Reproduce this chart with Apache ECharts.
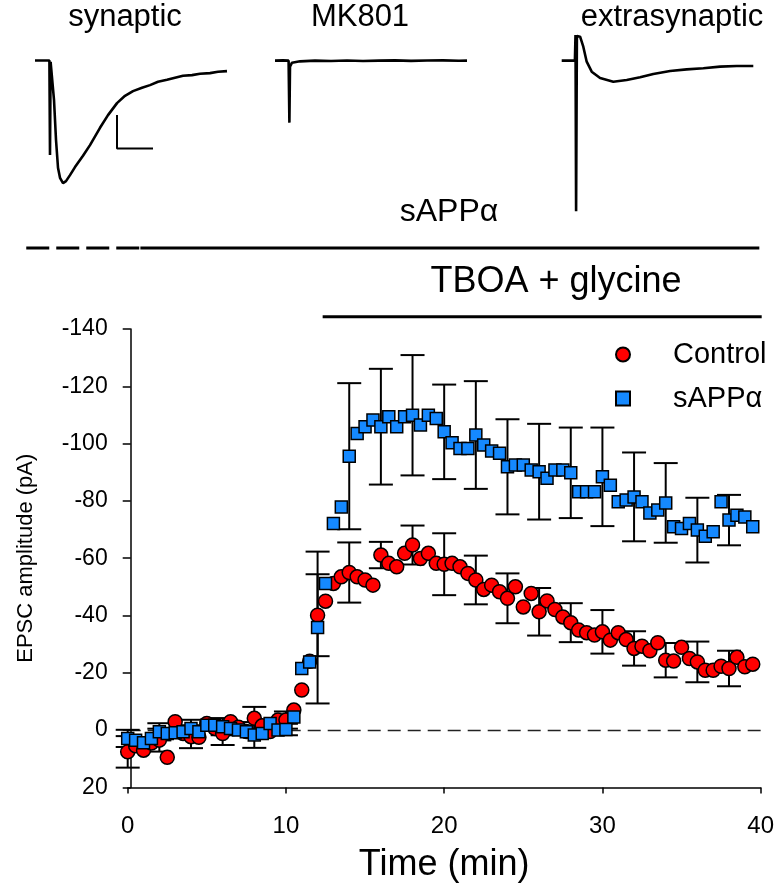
<!DOCTYPE html>
<html><head><meta charset="utf-8">
<script src="https://cdn.jsdelivr.net/npm/echarts@6/dist/echarts.min.js"></script>
<style>html,body{margin:0;padding:0;background:#fff}#c{width:777px;height:896px}</style>
</head><body><div id="c"></div>
<script>
// ---- main time course (min) ----
const timeMin = [0,0.5,1,1.5,2,2.5,3,3.5,4,4.5,5,5.5,6,6.5,7,7.5,8,8.5,9,9.5,10,10.5,11,11.5,12,12.5,13,13.5,14,14.5,15,15.5,16,16.5,17,17.5,18,18.5,19,19.5,20,20.5,21,21.5,22,22.5,23,23.5,24,24.5,25,25.5,26,26.5,27,27.5,28,28.5,29,29.5,30,30.5,31,31.5,32,32.5,33,33.5,34,34.5,35,35.5,36,36.5,37,37.5,38,38.5,39,39.5];
const controlAmp = [7.6,5.5,7.0,4.5,3.5,9.5,-2.9,1.2,2.3,2.5,-2.3,-0.6,1.2,-2.9,-1.0,0.5,-4.1,-1.5,0.5,-3.5,-3.5,-7.0,
  -14,-24,-40.1,-45,-51.2,-53.5,-55,-53.5,-52.4,-50.6,-61.1,-58.2,-57,-61.7,-64.6,-59.9,-61.7,-58.2,
  -57.9,-58.2,-57,-54.7,-52.4,-49.1,-50.6,-48.3,-46,-50,-43,-47.7,-41.3,-45.1,-42.1,-39.5,-37.5,-34.9,-34,-33.2,
  -34.3,-31.4,-34,-31.6,-28.5,-29.3,-27.7,-30.5,-24.4,-24.1,-28.9,-25,-23.8,-20.9,-20.9,-22.3,-21.5,-25.4,-22.1,-23];
const sappAmp = [2.9,3.5,4.4,2.9,0.6,1.2,0.9,0.6,-0.6,0.6,-1.7,-1.7,-1.2,-0.6,0,0.6,1.7,1.2,-2.3,0,-0.2,-4.6,
  -21.5,-23.8,-35.8,-51.2,-72.1,-77.9,-95.6,-103.5,-105.9,-108.2,-105.9,-109.4,-105.9,-109.4,-109.9,-106.5,-109.9,-108.8,
  -104.1,-100.3,-98.3,-98.3,-103,-99.5,-97.4,-96.6,-91.9,-92.5,-92.5,-90.8,-90.2,-87.9,-90.8,-90.8,-89.8,-83.2,-83.2,-83.2,
  -88.4,-85.5,-79.7,-80.3,-81.4,-79.7,-75.8,-76.8,-79.3,-71,-70.4,-72.1,-69.8,-67.7,-69.2,-79.7,-73.3,-75,-74.4,-71];
const errTime = [0,2,4,6,8,10,12,14,16,18,20,22,24,26,28,30,32,34,36,38];
const controlErr = [5.5,4,4,4,4,3,14.3,10.5,4.6,6.8,10.8,8.5,8.7,8.3,6.8,7.6,6,6,7.1,6.2];
const sappErr = [3,3,3,3,4.5,2,26.5,25.5,20.2,21,16.5,18.8,16.6,16.7,15.8,17.2,15.5,13.9,11.3,8.8];
const seriesNames = ['Control', 'sAPPα'];

// ---- treatment bars (min) ----
const sappPreStart = -6.4, sappStart = 0.8, sappEnd = 39.85;
const tboaStart = 12.3, tboaEnd = 40;

// ---- example traces (ms, pA) ----
const synT = [0,36,37.5,39,42.5,47.5,52.5,57.5,62.5,70,77.5,87.5,100,120,137.5,162.5,182.5,205,225,245,267.5,287.5,307.5,330,350,370,392.5,412.5,437.5,457.5,480];
const synI = [0,0,-142,-2,-4,-59,-119,-161,-176,-184,-181,-172,-160,-143,-127,-101,-82,-64,-53,-46,-41,-37,-32,-29,-26,-23,-22,-20,-19,-17,-16];
const mkT = [0,20,34,36,37.5,42.5,62.5,100,140,180,220,260,300,340,380,420,460,480];
const mkI = [0,0.5,0,-93,-9,-3,-1,0,-0.5,0.3,-0.6,0,0.4,-0.3,0.2,0.5,-0.2,0];
const exT = [0,33,34.5,36,38,41,46,54,62.5,75,96,129,162.5,196,229,271,312.5,354,396,437.5,479];
const exI = [0,0,38.6,-226,37,35,36,21,-1.5,-16.5,-26,-31.5,-29,-25,-20,-15.5,-13,-11.4,-9,-8,-8];
const scaleBarT = [205,205,295];
const scaleBarI = [-82,-132,-132];

const zip = (a, b) => a.map((v, i) => [v, b[i]]);
const errData = (amp, err) => errTime.map((t, i) => [t, amp[timeMin.indexOf(t)], err[i]]);

const FONT = '"Liberation Sans", Arial, sans-serif';
const chart = echarts.init(document.getElementById('c'), null, {renderer: 'canvas'});

function errRender(params, api) {
  const x = api.value(0), y = api.value(1), e = api.value(2);
  const a = api.coord([x, y - e]);
  const b = api.coord([x, y + e]);
  const hw = 12;
  const st = {stroke: '#000', lineWidth: 2};
  return {type: 'group', children: [
    {type: 'line', shape: {x1: a[0], y1: a[1], x2: b[0], y2: b[1]}, style: st},
    {type: 'line', shape: {x1: a[0] - hw, y1: a[1], x2: a[0] + hw, y2: a[1]}, style: st},
    {type: 'line', shape: {x1: b[0] - hw, y1: b[1], x2: b[0] + hw, y2: b[1]}, style: st}
  ]};
}

const traceLine = {color: '#000', width: 2.6};
const hiddenX = (min, max, g) => ({type: 'value', gridIndex: g, min, max, show: false, splitLine: {show: false}});
const hiddenY = (min, max, g) => ({type: 'value', gridIndex: g, min, max, show: false, splitLine: {show: false}});

const option = {
  animation: false,
  backgroundColor: '#fff',
  grid: [
    {left: 127.7, right: 15.3, top: 329, bottom: 108.6},
    {left: 0.9, right: 15.3, top: 248, height: 68.7},
    {left: 35, top: 53.8, width: 192, height: 133.3},
    {left: 275, top: 54, width: 192, height: 73.3},
    {left: 561.7, top: 34, width: 192, height: 180}
  ],
  xAxis: [
    {type: 'value', gridIndex: 0, min: 0, max: 40, interval: 10,
     name: 'Time (min)', nameLocation: 'middle', nameGap: 60,
     nameTextStyle: {fontSize: 36, color: '#000', fontFamily: FONT},
     axisLine: {onZero: false, lineStyle: {color: '#000', width: 1.5}},
     axisTick: {length: 6, lineStyle: {color: '#000', width: 1.5}},
     axisLabel: {fontSize: 24, color: '#000', fontFamily: FONT, margin: 27},
     splitLine: {show: false}},
    hiddenX(-8, 40, 1),
    hiddenX(0, 480, 2),
    hiddenX(0, 480, 3),
    hiddenX(0, 480, 4)
  ],
  yAxis: [
    {type: 'value', gridIndex: 0, min: -140, max: 20, interval: 20, inverse: true, offset: -3,
     name: 'EPSC amplitude (pA)', nameLocation: 'middle', nameGap: 94, nameRotate: 90,
     nameTextStyle: {fontSize: 22, color: '#000', fontFamily: FONT},
     axisLine: {onZero: false, lineStyle: {color: '#000', width: 1.5}},
     axisTick: {length: 8, lineStyle: {color: '#000', width: 1.5}},
     axisLabel: {fontSize: 23, color: '#000', fontFamily: FONT, margin: 23},
     splitLine: {show: false}},
    hiddenY(0, 1, 1),
    hiddenY(-190, 10, 2),
    hiddenY(-100, 10, 3),
    hiddenY(-230, 40, 4)
  ],
  legend: {
    orient: 'vertical', left: 610, top: 335, itemWidth: 14, itemHeight: 14, itemGap: 15,
    data: seriesNames,
    textStyle: {fontSize: 29, color: '#000', fontFamily: FONT, lineHeight: 22, padding: [0, 0, 0, 38]}
  },
  series: [
    {type: 'custom', name: 'Control SEM', xAxisIndex: 0, yAxisIndex: 0, renderItem: errRender,
     encode: {x: 0, y: 1}, data: errData(controlAmp, controlErr), z: 1, silent: true},
    {type: 'custom', name: 'sAPPα SEM', xAxisIndex: 0, yAxisIndex: 0, renderItem: errRender,
     encode: {x: 0, y: 1}, data: errData(sappAmp, sappErr), z: 1, silent: true},
    {type: 'scatter', name: 'Control', xAxisIndex: 0, yAxisIndex: 0, data: zip(timeMin, controlAmp),
     symbol: 'circle', symbolSize: 14, z: 3,
     itemStyle: {color: '#FF0000', borderColor: '#000', borderWidth: 1.5, opacity: 1},
     markLine: {silent: true, symbol: ['none', 'none'], label: {show: false},
       lineStyle: {color: '#222', width: 1.3, type: [13, 7]}, data: [{yAxis: 0}], z: 0}},
    {type: 'scatter', name: 'sAPPα', xAxisIndex: 0, yAxisIndex: 0, data: zip(timeMin, sappAmp),
     symbol: 'rect', symbolSize: 12, z: 4,
     itemStyle: {color: '#1589FF', borderColor: '#000', borderWidth: 1.5, opacity: 1}},
    // treatment bars
    {type: 'line', xAxisIndex: 1, yAxisIndex: 1, data: [[sappPreStart, 1], [sappStart, 1]], clip: false,
     showSymbol: false, symbol: 'none', lineStyle: {color: '#000', width: 3, type: [23, 7]}, silent: true},
    {type: 'line', xAxisIndex: 1, yAxisIndex: 1, data: [[sappStart, 1], [sappEnd, 1]], clip: false,
     showSymbol: false, symbol: 'none', lineStyle: {color: '#000', width: 3}, silent: true},
    {type: 'line', xAxisIndex: 1, yAxisIndex: 1, data: [[tboaStart, 0], [tboaEnd, 0]], clip: false,
     showSymbol: false, symbol: 'none', lineStyle: {color: '#000', width: 3}, silent: true},
    // traces
    {type: 'line', xAxisIndex: 2, yAxisIndex: 2, data: zip(synT, synI), symbol: 'none', clip: false, lineStyle: traceLine, silent: true},
    {type: 'line', xAxisIndex: 2, yAxisIndex: 2, data: zip(scaleBarT, scaleBarI), symbol: 'none', clip: false, lineStyle: {color: '#000', width: 2}, silent: true},
    {type: 'line', xAxisIndex: 3, yAxisIndex: 3, data: zip(mkT, mkI), symbol: 'none', clip: false, lineStyle: traceLine, silent: true},
    {type: 'line', xAxisIndex: 4, yAxisIndex: 4, data: zip(exT, exI), symbol: 'none', clip: false, lineStyle: traceLine, silent: true}
  ],
  graphic: [
    {type: 'text', x: 125, y: 17, style: {text: 'synaptic', font: '31px ' + FONT, fill: '#000', align: 'center', verticalAlign: 'middle'}},
    {type: 'text', x: 360, y: 17, style: {text: 'MK801', font: '31px ' + FONT, fill: '#000', align: 'center', verticalAlign: 'middle'}},
    {type: 'text', x: 672, y: 17, style: {text: 'extrasynaptic', font: '31px ' + FONT, fill: '#000', align: 'center', verticalAlign: 'middle'}},
    {type: 'text', x: 449, y: 212, style: {text: 'sAPPα', font: '32px ' + FONT, fill: '#000', align: 'center', verticalAlign: 'middle'}},
    {type: 'text', x: 556, y: 282, style: {text: 'TBOA + glycine', font: '36px ' + FONT, fill: '#000', align: 'center', verticalAlign: 'middle'}}
  ]
};
chart.setOption(option);
</script></body></html>
